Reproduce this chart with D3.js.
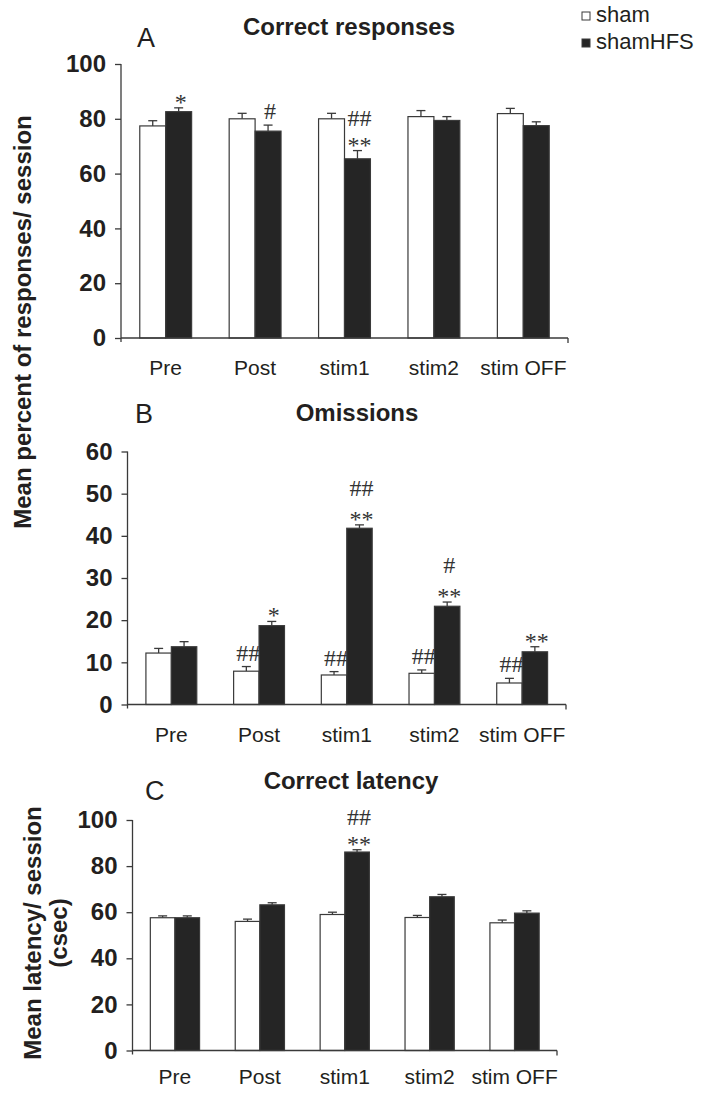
<!DOCTYPE html>
<html>
<head>
<meta charset="utf-8">
<script src="https://cdn.jsdelivr.net/npm/d3@7"></script>
<style>
  html, body { margin: 0; padding: 0; background: #fff; }
  svg { display: block; }
</style>
</head>
<body>
<svg id="chart" width="701" height="1093"></svg>
<script>
// ---------------- DATA ----------------
const categories = ["Pre", "Post", "stim1", "stim2", "stim OFF"];
const seriesNames = ["sham", "shamHFS"];

// A: Correct responses (%)
const correctSham    = [77.4, 80.0, 80.0, 80.8, 81.9];
const correctShamErr = [1.9, 2.0, 2.0, 2.2, 1.9];
const correctHFS     = [82.6, 75.5, 65.4, 79.4, 77.5];
const correctHFSErr  = [1.4, 2.2, 3.0, 1.4, 1.4];

// B: Omissions (%)
const omitSham    = [12.2, 7.9, 7.0, 7.4, 5.1];
const omitShamErr = [1.1, 1.1, 0.8, 0.8, 1.1];
const omitHFS     = [13.7, 18.7, 41.8, 23.3, 12.5];
const omitHFSErr  = [1.2, 1.0, 0.8, 1.0, 1.2];

// C: Correct latency (csec)
const latSham    = [57.6, 56.0, 59.0, 57.7, 55.4];
const latShamErr = [0.8, 1.0, 1.0, 0.9, 1.2];
const latHFS     = [57.6, 63.2, 86.1, 66.7, 59.6];
const latHFSErr  = [0.8, 0.9, 1.0, 1.0, 1.0];

// Tick values
const ticksA = [0, 20, 40, 60, 80, 100];
const ticksB = [0, 10, 20, 30, 40, 50, 60];
const ticksC = [0, 20, 40, 60, 80, 100];

// Significance marks (listed from bar upward)
const marksA = [
  { cat: "Pre",   series: "shamHFS", marks: ["*"] },
  { cat: "Post",  series: "shamHFS", marks: ["#"] },
  { cat: "stim1", series: "shamHFS", marks: ["**", "##"] }
];
const marksB = [
  { cat: "Post",     series: "sham",    marks: ["##"] },
  { cat: "Post",     series: "shamHFS", marks: ["*"] },
  { cat: "stim1",    series: "sham",    marks: ["##"] },
  { cat: "stim1",    series: "shamHFS", marks: ["**", "##"] },
  { cat: "stim2",    series: "sham",    marks: ["##"] },
  { cat: "stim2",    series: "shamHFS", marks: ["**", "#"] },
  { cat: "stim OFF", series: "sham",    marks: ["##"] },
  { cat: "stim OFF", series: "shamHFS", marks: ["**"] }
];
const marksC = [
  { cat: "stim1", series: "shamHFS", marks: ["**", "##"] }
];

// ---------------- LAYOUT ----------------
const panels = [
  { title: "Correct responses", letter: "A", sham: correctSham, shamErr: correctShamErr, hfs: correctHFS, hfsErr: correctHFSErr,
    ticks: ticksA, marks: marksA, left: 121, right: 568, bottom: 338, top: 64,
    titleX: 349, titleY: 35, letterX: 137, letterY: 47, labelPad: 22, stackGap: 27 },
  { title: "Omissions", letter: "B", sham: omitSham, shamErr: omitShamErr, hfs: omitHFS, hfsErr: omitHFSErr,
    ticks: ticksB, marks: marksB, left: 127.5, right: 566, bottom: 704.5, top: 451.5,
    titleX: 357, titleY: 421, letterX: 135, letterY: 423, labelPad: 23, stackGap: 31 },
  { title: "Correct latency", letter: "C", sham: latSham, shamErr: latShamErr, hfs: latHFS, hfsErr: latHFSErr,
    ticks: ticksC, marks: marksC, left: 132.5, right: 557, bottom: 1050.5, top: 820,
    titleX: 351, titleY: 789, letterX: 145, letterY: 800, labelPad: 19, stackGap: 27 }
];

const ink = "#231f20";
const axisColor = "#3a3a3a";
const darkFill = "#252525";
const svg = d3.select("#chart");

panels.forEach(p => {
  const g = svg.append("g");
  const x0 = d3.scaleBand().domain(categories).range([p.left, p.right]).paddingInner(0.42).paddingOuter(0.21);
  const x1 = d3.scaleBand().domain(seriesNames).range([0, x0.bandwidth()]);
  const yMax = p.ticks[p.ticks.length - 1];
  const y = d3.scaleLinear().domain([0, yMax]).range([p.bottom, p.top]);

  const rows = categories.map((c, i) => ({
    cat: c,
    vals: [
      { series: "sham", v: p.sham[i], e: p.shamErr[i] },
      { series: "shamHFS", v: p.hfs[i], e: p.hfsErr[i] }
    ]
  }));
  const lookup = {};
  rows.forEach(r => r.vals.forEach(d => { lookup[r.cat + "|" + d.series] = d; }));

  // significance marks (drawn below bars, as in the original); stacked marks form one label
  p.marks.forEach(m => {
    const d = lookup[m.cat + "|" + m.series];
    const cx = x0(m.cat) + x1(m.series) + x1.bandwidth() / 2 + 2;
    const errTop = y(d.v + d.e);
    const first = m.marks[0];
    const base = first.indexOf("*") >= 0 ? errTop + 2 : errTop - 6;
    const n = m.marks.length;
    const t = g.append("text")
      .attr("text-anchor", "middle")
      .attr("font-family", "'Liberation Serif', 'Times New Roman', serif")
      .attr("font-size", 24)
      .attr("fill", "#333");
    for (let k = n - 1; k >= 0; k--) {
      t.append("tspan")
        .attr("x", cx)
        .attr("y", base - k * p.stackGap)
        .text(m.marks[k]);
    }
  });

  // error bars (upward only)
  rows.forEach(r => {
    r.vals.forEach(d => {
      const cx = x0(r.cat) + x1(d.series) + x1.bandwidth() / 2;
      g.append("line").attr("x1", cx).attr("x2", cx).attr("y1", y(d.v)).attr("y2", y(d.v + d.e))
        .attr("stroke", axisColor).attr("stroke-width", 1.3);
      g.append("line").attr("x1", cx - 4.5).attr("x2", cx + 4.5).attr("y1", y(d.v + d.e)).attr("y2", y(d.v + d.e))
        .attr("stroke", axisColor).attr("stroke-width", 1.3);
    });
  });

  // bars
  rows.forEach(r => {
    g.selectAll(null).data(r.vals).enter().append("rect")
      .attr("x", d => x0(r.cat) + x1(d.series))
      .attr("y", d => y(d.v))
      .attr("width", x1.bandwidth())
      .attr("height", d => y(0) - y(d.v))
      .attr("fill", d => d.series === "sham" ? "#fff" : darkFill)
      .attr("stroke", axisColor)
      .attr("stroke-width", 1.2);
  });

  // y axis
  const yAxis = d3.axisLeft(y).tickValues(p.ticks).tickSize(6).tickPadding(9).tickFormat(d3.format("d"));
  const ya = g.append("g").attr("transform", `translate(${p.left},0)`).call(yAxis);
  ya.select(".domain").remove();
  ya.selectAll(".tick line").attr("stroke", axisColor).attr("stroke-width", 1.3);
  ya.selectAll(".tick text")
    .attr("font-family", "'Liberation Sans', Arial, sans-serif")
    .attr("font-weight", "bold").attr("font-size", 24).attr("fill", ink);
  g.append("line").attr("x1", p.left).attr("x2", p.left).attr("y1", p.top).attr("y2", p.bottom + 4)
    .attr("stroke", axisColor).attr("stroke-width", 1.3);

  // x axis
  const xAxis = d3.axisBottom(x0).tickSize(0).tickPadding(p.labelPad);
  const xa = g.append("g").attr("transform", `translate(0,${p.bottom})`).call(xAxis);
  xa.select(".domain").remove();
  xa.selectAll(".tick text")
    .attr("font-family", "'Liberation Sans', Arial, sans-serif")
    .attr("font-size", 21).attr("fill", ink);
  g.append("line").attr("x1", p.left).attr("x2", p.right).attr("y1", p.bottom).attr("y2", p.bottom)
    .attr("stroke", axisColor).attr("stroke-width", 1.3);
  g.append("line").attr("x1", p.right).attr("x2", p.right).attr("y1", p.bottom).attr("y2", p.bottom + 5)
    .attr("stroke", axisColor).attr("stroke-width", 1.3);

  // title & letter
  g.append("text").attr("x", p.titleX).attr("y", p.titleY).attr("text-anchor", "middle")
    .attr("font-family", "'Liberation Sans', Arial, sans-serif").attr("font-weight", "bold")
    .attr("font-size", 24).attr("fill", ink).text(p.title);
  g.append("text").attr("x", p.letterX).attr("y", p.letterY)
    .attr("font-family", "'Liberation Sans', Arial, sans-serif")
    .attr("font-size", 27).attr("fill", ink).text(p.letter);
});

// shared y title for A and B
svg.append("text")
  .attr("transform", "translate(31,322) rotate(-90)")
  .attr("text-anchor", "middle")
  .attr("font-family", "'Liberation Sans', Arial, sans-serif").attr("font-weight", "bold")
  .attr("font-size", 24).attr("fill", ink)
  .text("Mean percent of responses/ session");

// y title for C (two lines)
const cTitle = svg.append("text")
  .attr("transform", "translate(41,933) rotate(-90)")
  .attr("text-anchor", "middle")
  .attr("font-family", "'Liberation Sans', Arial, sans-serif").attr("font-weight", "bold")
  .attr("font-size", 24).attr("fill", ink);
cTitle.append("tspan").attr("x", 0).attr("dy", 0).text("Mean latency/ session");
cTitle.append("tspan").attr("x", 0).attr("dy", 26).text("(csec)");

// legend
const legend = svg.append("g");
seriesNames.forEach((s, i) => {
  const ly = 22 + i * 27;
  legend.append("rect").attr("x", 582).attr("y", ly - 10).attr("width", 8).attr("height", 8)
    .attr("fill", s === "sham" ? "#fff" : darkFill).attr("stroke", axisColor).attr("stroke-width", 1);
  legend.append("text").attr("x", 596).attr("y", ly)
    .attr("font-family", "'Liberation Sans', Arial, sans-serif")
    .attr("font-size", 22).attr("fill", ink).text(s);
});
</script>
</body>
</html>
